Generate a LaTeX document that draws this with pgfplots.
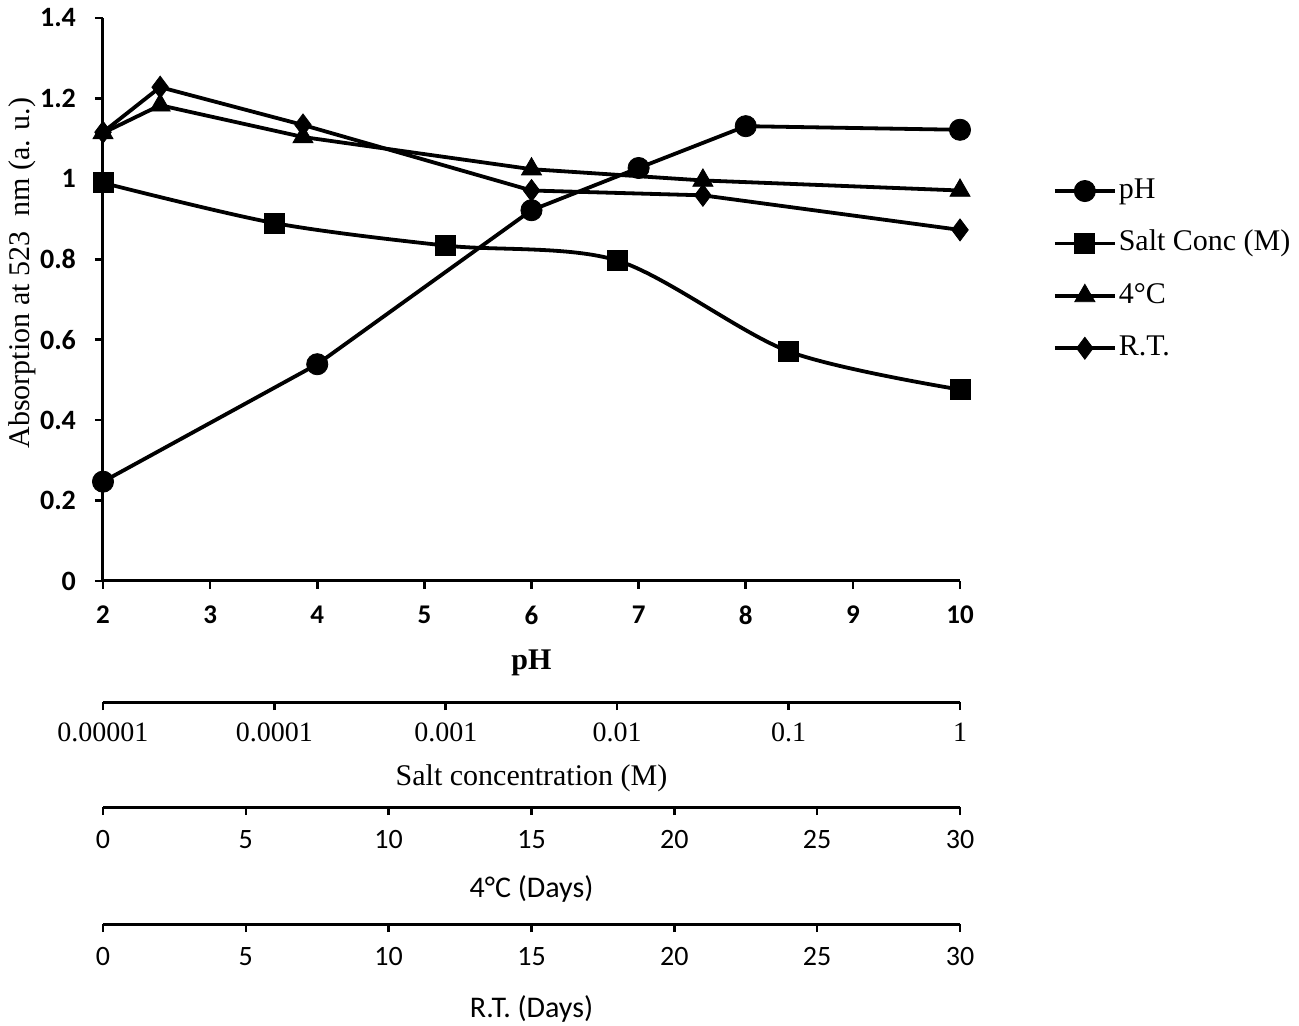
\documentclass[border=0pt]{standalone}
\usepackage{fontspec}
\setmainfont{Liberation Serif}
\newfontfamily\calib{Carlito}
\usepackage{pgfplots}
\pgfplotsset{compat=1.18}
\begin{document}
\begin{tikzpicture}
\pgfplotsset{
  base/.style={scale only axis, width=428.5pt, height=281.5pt, ymin=0, ymax=1.4, clip=false},
  xonly/.style={scale only axis, width=428.5pt, height=20pt, ymin=0, ymax=1,
     axis x line*=bottom, axis y line=none, tick align=outside, major tick length=4pt,
     xminorticks=false,
     tick style={line width=1.3pt, black}, axis line style={line width=1.5pt},
     xticklabel style={anchor=center, yshift=-11pt},
     xlabel style={at={(axis description cs:0.5,0)}, anchor=center, yshift=-40pt}},
  ser/.style={black, line width=1.9pt, mark options={solid, fill=black, line width=0.4pt}},
}
\useasboundingbox (-51.5pt,-222.5pt) rectangle (598pt,290.5pt);
% main pH axis
\begin{axis}[base, at={(0,0)}, xmin=2, xmax=10,
  axis x line*=bottom, axis y line*=left,
  axis line style={line width=1.5pt},
  tick align=outside, major tick length=4pt, tick style={line width=1.3pt,black},
  xtick={2,3,4,5,6,7,8,9,10}, xticklabels={2,3,4,5,6,7,8,9,10},
  ytick={0,0.2,0.4,0.6,0.8,1,1.2,1.4}, yticklabels={0,0.2,0.4,0.6,0.8,1,1.2,1.4},
  xticklabel style={font=\calib\bfseries\fontsize{13.5}{16}\selectfont, anchor=center, yshift=-13pt},
  yticklabel style={font=\calib\bfseries\fontsize{14}{16}\selectfont, anchor=east, xshift=-6pt},
  xlabel={pH},
  xlabel style={font=\bfseries\fontsize{15}{17}\selectfont, at={(axis description cs:0.5,0)}, anchor=center, yshift=-41pt},
  ylabel={Absorption at 523~ nm (a. u.)},
  ylabel style={font=\fontsize{15}{17}\selectfont, at={(axis description cs:-0.0945,0.547)}, anchor=center},
  legend style={draw=none, fill=none, at={(axis description cs:1.108,0.553)}, anchor=west,
     font=\fontsize{15}{17}\selectfont, row sep=11.7pt, inner sep=0pt,
     nodes={inner xsep=1pt, inner ysep=0pt, text height=11pt, text depth=3.5pt}},
  legend cell align=left,
  legend image code/.code={\draw[mark repeat=2, mark phase=2, #1] plot coordinates {(0pt,0pt) (15pt,0pt) (30pt,0pt)};},
]
\addplot[ser, mark=*, mark size=5.3pt] coordinates {(2,0.247) (4,0.539) (6,0.922) (7,1.027) (8,1.131) (10,1.122)};
\addlegendentry{pH}
\addlegendimage{ser, mark=square*, mark size=5pt}
\addlegendentry{Salt Conc (M)}
\addlegendimage{ser, mark=triangle*, mark size=5.8pt}
\addlegendentry{4°C}
\addlegendimage{ser, mark=diamond*, mark size=5.5pt}
\addlegendentry{R.T.}
\end{axis}
% salt data
\begin{axis}[base, at={(0,0)}, hide axis, xmode=log, xmin=1e-5, xmax=1]
\addplot[ser, smooth, mark=square*, mark size=5pt] coordinates {(1e-5,0.99) (1e-4,0.89) (1e-3,0.834) (1e-2,0.797) (1e-1,0.571) (1,0.476)};
\end{axis}
% days data
\begin{axis}[base, at={(0,0)}, hide axis, xmin=0, xmax=30]
\addplot[ser, mark=triangle*, mark size=5.8pt] coordinates {(0,1.114) (2,1.183) (7,1.104) (15,1.024) (21,0.996) (30,0.971)};
\addplot[ser, mark=diamond*, mark size=5.5pt] coordinates {(0,1.116) (2,1.228) (7,1.134) (15,0.971) (21,0.959) (30,0.873)};
\end{axis}
% salt axis
\begin{axis}[xonly, at={(0,-60.5pt)}, xmode=log, xmin=1e-5, xmax=1,
  xtick={1e-5,1e-4,1e-3,1e-2,1e-1,1}, xticklabels={0.00001,0.0001,0.001,0.01,0.1,1},
  xticklabel style={font=\fontsize{14}{16}\selectfont},
  xlabel={Salt concentration (M)}, xlabel style={font=\fontsize{15}{17}\selectfont, yshift=2pt}]
\end{axis}
% 4C axis
\begin{axis}[xonly, at={(0,-113pt)}, xmin=0, xmax=30,
  xtick={0,5,10,15,20,25,30}, xticklabels={0,5,10,15,20,25,30},
  xticklabel style={font=\calib\fontsize{14}{16}\selectfont, yshift=-1.5pt},
  xlabel={4°C (Days)}, xlabel style={font=\calib\fontsize{15}{17}\selectfont, yshift=-1pt}]
\end{axis}
% RT axis
\begin{axis}[xonly, at={(0,-171.5pt)}, xmin=0, xmax=30,
  xtick={0,5,10,15,20,25,30}, xticklabels={0,5,10,15,20,25,30},
  xticklabel style={font=\calib\fontsize{14}{16}\selectfont, yshift=-1.5pt},
  xlabel={R.T. (Days)}, xlabel style={font=\calib\fontsize{15}{17}\selectfont, yshift=-2.5pt}]
\end{axis}
\end{tikzpicture}
\end{document}
